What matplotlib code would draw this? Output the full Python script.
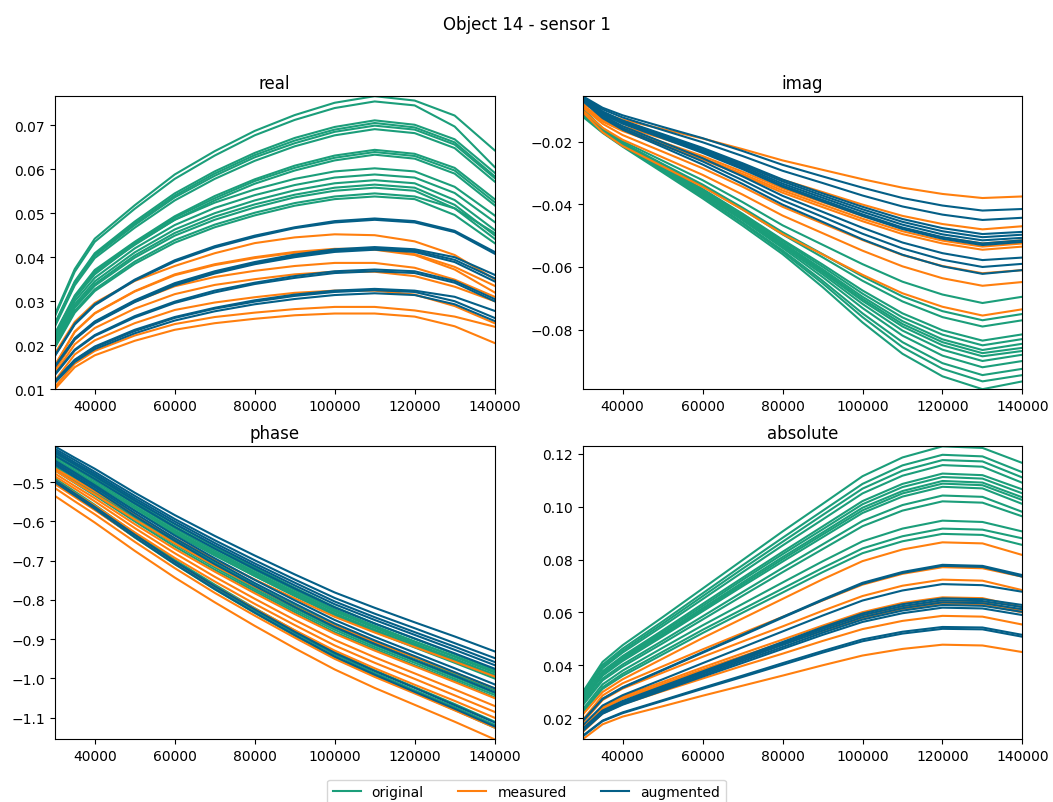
import matplotlib.pyplot as plt
from matplotlib.lines import Line2D

freq = [30000, 35000, 40000, 50000, 60000, 70000, 80000, 90000, 100000, 110000, 120000, 130000, 140000]

# ---- real ----
real_original = [
    [0.0269, 0.0373, 0.0442, 0.0518, 0.0588, 0.0641, 0.0687, 0.0723, 0.0751, 0.0766, 0.0756, 0.0722, 0.0643],
    [0.0265, 0.0367, 0.0435, 0.0510, 0.0578, 0.0631, 0.0677, 0.0712, 0.0739, 0.0754, 0.0745, 0.0697, 0.0605],
    [0.0249, 0.0345, 0.0409, 0.0481, 0.0545, 0.0595, 0.0637, 0.0671, 0.0696, 0.0711, 0.0701, 0.0668, 0.0592],
    [0.0247, 0.0342, 0.0406, 0.0477, 0.0540, 0.0590, 0.0632, 0.0665, 0.0690, 0.0705, 0.0695, 0.0661, 0.0584],
    [0.0245, 0.0340, 0.0403, 0.0473, 0.0536, 0.0585, 0.0627, 0.0659, 0.0685, 0.0699, 0.0690, 0.0656, 0.0580],
    [0.0242, 0.0336, 0.0398, 0.0467, 0.0529, 0.0578, 0.0619, 0.0652, 0.0677, 0.0691, 0.0682, 0.0648, 0.0572],
    [0.0226, 0.0313, 0.0371, 0.0435, 0.0493, 0.0539, 0.0577, 0.0608, 0.0631, 0.0644, 0.0635, 0.0603, 0.0532],
    [0.0224, 0.0310, 0.0368, 0.0432, 0.0490, 0.0534, 0.0573, 0.0603, 0.0626, 0.0639, 0.0630, 0.0597, 0.0525],
    [0.0222, 0.0307, 0.0365, 0.0428, 0.0485, 0.0529, 0.0567, 0.0597, 0.0620, 0.0633, 0.0624, 0.0590, 0.0518],
    [0.0217, 0.0307, 0.0361, 0.0430, 0.0485, 0.0524, 0.0554, 0.0578, 0.0595, 0.0602, 0.0595, 0.0560, 0.0495],
    [0.0212, 0.0300, 0.0353, 0.0420, 0.0473, 0.0512, 0.0541, 0.0564, 0.0581, 0.0588, 0.0581, 0.0546, 0.0480],
    [0.0207, 0.0293, 0.0345, 0.0411, 0.0463, 0.0500, 0.0529, 0.0552, 0.0568, 0.0575, 0.0568, 0.0530, 0.0462],
    [0.0203, 0.0288, 0.0339, 0.0404, 0.0455, 0.0492, 0.0520, 0.0542, 0.0558, 0.0565, 0.0558, 0.0519, 0.0450],
    [0.0201, 0.0285, 0.0335, 0.0399, 0.0449, 0.0485, 0.0513, 0.0536, 0.0551, 0.0558, 0.0551, 0.0511, 0.0442],
    [0.0196, 0.0278, 0.0327, 0.0390, 0.0439, 0.0474, 0.0501, 0.0523, 0.0538, 0.0545, 0.0538, 0.0511, 0.0455],
    [0.0194, 0.0274, 0.0323, 0.0385, 0.0433, 0.0468, 0.0495, 0.0517, 0.0532, 0.0538, 0.0532, 0.0496, 0.0432],
]
real_measured = [
    [0.0181, 0.0253, 0.0296, 0.0346, 0.0380, 0.0409, 0.0432, 0.0445, 0.0452, 0.0450, 0.0436, 0.0405, 0.0350],
    [0.0154, 0.0231, 0.0273, 0.0323, 0.0361, 0.0384, 0.0400, 0.0412, 0.0419, 0.0419, 0.0407, 0.0378, 0.0335],
    [0.0153, 0.0230, 0.0272, 0.0322, 0.0359, 0.0382, 0.0398, 0.0410, 0.0417, 0.0417, 0.0405, 0.0372, 0.0320],
    [0.0142, 0.0213, 0.0252, 0.0299, 0.0334, 0.0355, 0.0369, 0.0380, 0.0387, 0.0387, 0.0376, 0.0349, 0.0310],
    [0.0135, 0.0202, 0.0239, 0.0283, 0.0316, 0.0337, 0.0350, 0.0361, 0.0367, 0.0367, 0.0357, 0.0333, 0.0300],
    [0.0119, 0.0179, 0.0211, 0.0250, 0.0280, 0.0297, 0.0309, 0.0319, 0.0324, 0.0324, 0.0315, 0.0289, 0.0250],
    [0.0105, 0.0158, 0.0187, 0.0222, 0.0248, 0.0264, 0.0274, 0.0282, 0.0287, 0.0287, 0.0279, 0.0265, 0.0242],
    [0.0100, 0.0150, 0.0177, 0.0210, 0.0235, 0.0250, 0.0260, 0.0268, 0.0272, 0.0272, 0.0265, 0.0243, 0.0205],
]
real_augmented = [
    [0.0176, 0.0249, 0.0293, 0.0349, 0.0393, 0.0425, 0.0449, 0.0468, 0.0482, 0.0488, 0.0482, 0.0460, 0.0412],
    [0.0175, 0.0247, 0.0291, 0.0347, 0.0390, 0.0422, 0.0446, 0.0466, 0.0479, 0.0485, 0.0479, 0.0457, 0.0408],
    [0.0152, 0.0216, 0.0254, 0.0302, 0.0341, 0.0368, 0.0389, 0.0406, 0.0418, 0.0423, 0.0418, 0.0400, 0.0360],
    [0.0151, 0.0214, 0.0252, 0.0300, 0.0338, 0.0365, 0.0386, 0.0403, 0.0415, 0.0420, 0.0415, 0.0394, 0.0352],
    [0.0150, 0.0213, 0.0250, 0.0298, 0.0336, 0.0363, 0.0384, 0.0400, 0.0412, 0.0417, 0.0412, 0.0389, 0.0345],
    [0.0134, 0.0190, 0.0223, 0.0266, 0.0299, 0.0324, 0.0342, 0.0357, 0.0368, 0.0372, 0.0368, 0.0346, 0.0305],
    [0.0132, 0.0188, 0.0221, 0.0263, 0.0296, 0.0320, 0.0339, 0.0353, 0.0364, 0.0368, 0.0364, 0.0342, 0.0300],
    [0.0118, 0.0167, 0.0197, 0.0235, 0.0264, 0.0285, 0.0302, 0.0315, 0.0324, 0.0328, 0.0324, 0.0310, 0.0278],
    [0.0117, 0.0166, 0.0195, 0.0232, 0.0262, 0.0283, 0.0299, 0.0312, 0.0321, 0.0325, 0.0321, 0.0300, 0.0262],
    [0.0114, 0.0162, 0.0191, 0.0227, 0.0256, 0.0277, 0.0293, 0.0305, 0.0314, 0.0318, 0.0314, 0.0293, 0.0255],
]

# ---- imag ----
imag_original = [
    [-0.0095, -0.0157, -0.0199, -0.0261, -0.0323, -0.0393, -0.0467, -0.0529, -0.0591, -0.0647, -0.0688, -0.0715, -0.0695],
    [-0.0100, -0.0162, -0.0204, -0.0271, -0.0337, -0.0411, -0.0489, -0.0559, -0.0630, -0.0694, -0.0741, -0.0770, -0.0750],
    [-0.0100, -0.0162, -0.0205, -0.0273, -0.0341, -0.0416, -0.0496, -0.0569, -0.0644, -0.0710, -0.0760, -0.0790, -0.0770],
    [-0.0105, -0.0165, -0.0209, -0.0280, -0.0351, -0.0430, -0.0513, -0.0592, -0.0675, -0.0748, -0.0802, -0.0835, -0.0815],
    [-0.0105, -0.0165, -0.0209, -0.0281, -0.0354, -0.0433, -0.0517, -0.0599, -0.0685, -0.0761, -0.0816, -0.0850, -0.0830],
    [-0.0108, -0.0167, -0.0211, -0.0284, -0.0358, -0.0438, -0.0523, -0.0607, -0.0695, -0.0773, -0.0831, -0.0865, -0.0845],
    [-0.0108, -0.0167, -0.0211, -0.0285, -0.0360, -0.0441, -0.0526, -0.0612, -0.0702, -0.0782, -0.0840, -0.0875, -0.0858],
    [-0.0110, -0.0168, -0.0212, -0.0287, -0.0362, -0.0444, -0.0529, -0.0617, -0.0708, -0.0790, -0.0850, -0.0885, -0.0868],
    [-0.0110, -0.0168, -0.0212, -0.0288, -0.0365, -0.0447, -0.0534, -0.0623, -0.0718, -0.0803, -0.0864, -0.0900, -0.0880],
    [-0.0112, -0.0169, -0.0212, -0.0290, -0.0368, -0.0451, -0.0539, -0.0632, -0.0731, -0.0819, -0.0883, -0.0920, -0.0900],
    [-0.0115, -0.0170, -0.0213, -0.0293, -0.0373, -0.0458, -0.0547, -0.0644, -0.0748, -0.0840, -0.0907, -0.0945, -0.0925],
    [-0.0115, -0.0169, -0.0212, -0.0294, -0.0376, -0.0461, -0.0552, -0.0652, -0.0760, -0.0856, -0.0925, -0.0965, -0.0945],
    [-0.0120, -0.0172, -0.0216, -0.0298, -0.0381, -0.0468, -0.0559, -0.0664, -0.0777, -0.0877, -0.0949, -0.0990, -0.0965],
]
imag_measured = [
    [-0.0080, -0.0110, -0.0130, -0.0160, -0.0190, -0.0224, -0.0260, -0.0290, -0.0320, -0.0347, -0.0367, -0.0380, -0.0375],
    [-0.0085, -0.0125, -0.0151, -0.0190, -0.0230, -0.0275, -0.0322, -0.0361, -0.0401, -0.0437, -0.0463, -0.0480, -0.0470],
    [-0.0085, -0.0129, -0.0158, -0.0202, -0.0246, -0.0296, -0.0349, -0.0393, -0.0437, -0.0477, -0.0506, -0.0525, -0.0515],
    [-0.0088, -0.0133, -0.0163, -0.0207, -0.0252, -0.0303, -0.0356, -0.0401, -0.0446, -0.0486, -0.0516, -0.0535, -0.0525],
    [-0.0090, -0.0136, -0.0166, -0.0212, -0.0257, -0.0308, -0.0363, -0.0409, -0.0454, -0.0495, -0.0525, -0.0545, -0.0535],
    [-0.0090, -0.0143, -0.0179, -0.0232, -0.0285, -0.0344, -0.0408, -0.0461, -0.0514, -0.0562, -0.0597, -0.0620, -0.0610],
    [-0.0100, -0.0156, -0.0194, -0.0250, -0.0306, -0.0369, -0.0436, -0.0492, -0.0548, -0.0598, -0.0636, -0.0660, -0.0648],
    [-0.0105, -0.0170, -0.0214, -0.0279, -0.0344, -0.0417, -0.0495, -0.0560, -0.0625, -0.0684, -0.0727, -0.0755, -0.0735],
]
imag_augmented = [
    [-0.0055, -0.0092, -0.0116, -0.0153, -0.0189, -0.0230, -0.0274, -0.0311, -0.0347, -0.0380, -0.0404, -0.0420, -0.0415],
    [-0.0058, -0.0097, -0.0123, -0.0163, -0.0202, -0.0246, -0.0293, -0.0332, -0.0372, -0.0407, -0.0433, -0.0450, -0.0443],
    [-0.0060, -0.0104, -0.0133, -0.0176, -0.0220, -0.0269, -0.0321, -0.0365, -0.0408, -0.0447, -0.0476, -0.0495, -0.0488],
    [-0.0060, -0.0105, -0.0134, -0.0179, -0.0223, -0.0274, -0.0327, -0.0372, -0.0416, -0.0456, -0.0486, -0.0505, -0.0497],
    [-0.0062, -0.0107, -0.0138, -0.0183, -0.0228, -0.0279, -0.0334, -0.0379, -0.0424, -0.0465, -0.0496, -0.0515, -0.0507],
    [-0.0062, -0.0108, -0.0139, -0.0186, -0.0232, -0.0284, -0.0340, -0.0386, -0.0432, -0.0474, -0.0505, -0.0525, -0.0515],
    [-0.0065, -0.0112, -0.0143, -0.0189, -0.0236, -0.0288, -0.0344, -0.0391, -0.0437, -0.0479, -0.0510, -0.0530, -0.0520],
    [-0.0065, -0.0116, -0.0151, -0.0202, -0.0253, -0.0311, -0.0373, -0.0424, -0.0475, -0.0522, -0.0556, -0.0578, -0.0570],
    [-0.0068, -0.0121, -0.0157, -0.0210, -0.0263, -0.0323, -0.0387, -0.0440, -0.0494, -0.0541, -0.0577, -0.0600, -0.0590],
    [-0.0070, -0.0125, -0.0162, -0.0217, -0.0273, -0.0335, -0.0401, -0.0456, -0.0512, -0.0561, -0.0598, -0.0622, -0.0610],
]

# ---- phase ----
phase_original = [
    [-0.420, -0.451, -0.481, -0.546, -0.607, -0.664, -0.717, -0.769, -0.818, -0.860, -0.899, -0.938, -0.978],
    [-0.425, -0.456, -0.487, -0.551, -0.613, -0.670, -0.724, -0.775, -0.824, -0.866, -0.906, -0.945, -0.985],
    [-0.430, -0.461, -0.492, -0.556, -0.618, -0.675, -0.729, -0.780, -0.829, -0.871, -0.911, -0.950, -0.990],
    [-0.435, -0.466, -0.497, -0.561, -0.623, -0.680, -0.734, -0.785, -0.834, -0.876, -0.916, -0.955, -0.995],
    [-0.440, -0.471, -0.502, -0.566, -0.628, -0.685, -0.739, -0.790, -0.839, -0.881, -0.921, -0.960, -1.000],
    [-0.445, -0.475, -0.504, -0.566, -0.625, -0.680, -0.731, -0.781, -0.828, -0.868, -0.906, -0.943, -0.982],
    [-0.450, -0.480, -0.510, -0.572, -0.632, -0.687, -0.739, -0.789, -0.836, -0.877, -0.915, -0.953, -0.992],
    [-0.455, -0.487, -0.518, -0.584, -0.648, -0.706, -0.762, -0.814, -0.865, -0.908, -0.948, -0.989, -1.030],
    [-0.460, -0.492, -0.524, -0.590, -0.653, -0.712, -0.768, -0.821, -0.871, -0.915, -0.955, -0.996, -1.037],
    [-0.465, -0.497, -0.529, -0.595, -0.658, -0.717, -0.773, -0.826, -0.876, -0.920, -0.960, -1.001, -1.042],
    [-0.470, -0.502, -0.534, -0.600, -0.664, -0.723, -0.778, -0.831, -0.882, -0.925, -0.966, -1.006, -1.048],
    [-0.490, -0.524, -0.558, -0.630, -0.698, -0.761, -0.821, -0.878, -0.932, -0.979, -1.022, -1.065, -1.110],
    [-0.495, -0.529, -0.564, -0.635, -0.704, -0.767, -0.827, -0.884, -0.939, -0.986, -1.030, -1.073, -1.118],
    [-0.500, -0.534, -0.569, -0.641, -0.709, -0.773, -0.833, -0.891, -0.946, -0.993, -1.036, -1.080, -1.125],
]
phase_measured = [
    [-0.465, -0.494, -0.523, -0.584, -0.643, -0.697, -0.748, -0.796, -0.843, -0.883, -0.920, -0.957, -0.995],
    [-0.470, -0.501, -0.531, -0.595, -0.656, -0.713, -0.766, -0.817, -0.866, -0.907, -0.946, -0.985, -1.025],
    [-0.478, -0.510, -0.541, -0.607, -0.670, -0.728, -0.783, -0.836, -0.886, -0.929, -0.969, -1.009, -1.050],
    [-0.485, -0.517, -0.549, -0.617, -0.681, -0.741, -0.797, -0.851, -0.902, -0.946, -0.987, -1.028, -1.070],
    [-0.495, -0.528, -0.560, -0.628, -0.693, -0.753, -0.810, -0.864, -0.916, -0.960, -1.001, -1.043, -1.085],
    [-0.505, -0.538, -0.571, -0.639, -0.704, -0.765, -0.822, -0.877, -0.929, -0.974, -1.016, -1.057, -1.100],
    [-0.515, -0.549, -0.582, -0.652, -0.719, -0.782, -0.840, -0.896, -0.950, -0.996, -1.038, -1.081, -1.125],
    [-0.535, -0.569, -0.603, -0.675, -0.743, -0.806, -0.866, -0.923, -0.977, -1.024, -1.067, -1.110, -1.155],
]
phase_augmented = [
    [-0.409, -0.438, -0.466, -0.527, -0.584, -0.637, -0.687, -0.735, -0.781, -0.820, -0.857, -0.893, -0.931],
    [-0.415, -0.444, -0.474, -0.535, -0.594, -0.648, -0.699, -0.748, -0.795, -0.835, -0.872, -0.910, -0.948],
    [-0.420, -0.450, -0.479, -0.541, -0.600, -0.655, -0.707, -0.756, -0.804, -0.844, -0.882, -0.919, -0.958],
    [-0.425, -0.455, -0.485, -0.547, -0.606, -0.661, -0.713, -0.763, -0.811, -0.851, -0.889, -0.927, -0.966],
    [-0.432, -0.462, -0.492, -0.554, -0.614, -0.669, -0.721, -0.771, -0.819, -0.860, -0.898, -0.936, -0.975],
    [-0.445, -0.476, -0.508, -0.573, -0.636, -0.694, -0.749, -0.801, -0.851, -0.894, -0.934, -0.974, -1.015],
    [-0.450, -0.482, -0.513, -0.579, -0.643, -0.701, -0.757, -0.809, -0.860, -0.903, -0.943, -0.984, -1.025],
    [-0.455, -0.487, -0.519, -0.586, -0.649, -0.709, -0.764, -0.818, -0.869, -0.912, -0.953, -0.993, -1.035],
    [-0.495, -0.529, -0.563, -0.634, -0.702, -0.765, -0.824, -0.881, -0.935, -0.981, -1.024, -1.068, -1.112],
    [-0.500, -0.534, -0.568, -0.640, -0.708, -0.772, -0.832, -0.889, -0.944, -0.990, -1.034, -1.077, -1.122],
]

# ---- absolute ----
abs_original = [
    [0.0298, 0.0413, 0.0476, 0.0582, 0.0690, 0.0798, 0.0906, 0.1010, 0.1115, 0.1186, 0.1228, 0.1222, 0.1165],
    [0.0290, 0.0402, 0.0463, 0.0566, 0.0672, 0.0778, 0.0882, 0.0984, 0.1086, 0.1156, 0.1196, 0.1190, 0.1130],
    [0.0286, 0.0395, 0.0455, 0.0557, 0.0661, 0.0765, 0.0867, 0.0968, 0.1068, 0.1136, 0.1176, 0.1171, 0.1110],
    [0.0281, 0.0389, 0.0448, 0.0548, 0.0650, 0.0752, 0.0853, 0.0951, 0.1050, 0.1117, 0.1157, 0.1151, 0.1090],
    [0.0273, 0.0378, 0.0435, 0.0532, 0.0632, 0.0731, 0.0829, 0.0925, 0.1021, 0.1086, 0.1125, 0.1119, 0.1065],
    [0.0270, 0.0374, 0.0430, 0.0526, 0.0624, 0.0723, 0.0820, 0.0914, 0.1009, 0.1074, 0.1112, 0.1106, 0.1050],
    [0.0266, 0.0369, 0.0425, 0.0519, 0.0616, 0.0713, 0.0809, 0.0902, 0.0996, 0.1059, 0.1097, 0.1091, 0.1035],
    [0.0264, 0.0365, 0.0421, 0.0514, 0.0610, 0.0706, 0.0801, 0.0894, 0.0986, 0.1050, 0.1087, 0.1081, 0.1025],
    [0.0261, 0.0361, 0.0416, 0.0509, 0.0604, 0.0699, 0.0792, 0.0884, 0.0976, 0.1038, 0.1075, 0.1069, 0.1010],
    [0.0253, 0.0350, 0.0403, 0.0493, 0.0585, 0.0677, 0.0768, 0.0857, 0.0946, 0.1006, 0.1042, 0.1037, 0.0980],
    [0.0248, 0.0343, 0.0395, 0.0483, 0.0573, 0.0663, 0.0752, 0.0839, 0.0926, 0.0985, 0.1020, 0.1015, 0.0963],
    [0.0233, 0.0328, 0.0380, 0.0466, 0.0551, 0.0632, 0.0713, 0.0793, 0.0869, 0.0917, 0.0947, 0.0942, 0.0906],
    [0.0225, 0.0317, 0.0368, 0.0451, 0.0534, 0.0612, 0.0690, 0.0768, 0.0842, 0.0888, 0.0917, 0.0913, 0.0880],
    [0.0221, 0.0311, 0.0360, 0.0441, 0.0522, 0.0599, 0.0675, 0.0752, 0.0824, 0.0869, 0.0897, 0.0893, 0.0855],
]
abs_measured = [
    [0.0213, 0.0299, 0.0347, 0.0425, 0.0503, 0.0577, 0.0651, 0.0725, 0.0794, 0.0838, 0.0865, 0.0861, 0.0817],
    [0.0193, 0.0286, 0.0332, 0.0396, 0.0460, 0.0522, 0.0583, 0.0645, 0.0705, 0.0746, 0.0771, 0.0767, 0.0735],
    [0.0182, 0.0269, 0.0312, 0.0372, 0.0432, 0.0490, 0.0547, 0.0606, 0.0662, 0.0701, 0.0724, 0.0720, 0.0684],
    [0.0165, 0.0244, 0.0283, 0.0337, 0.0392, 0.0445, 0.0497, 0.0550, 0.0601, 0.0636, 0.0657, 0.0654, 0.0620],
    [0.0161, 0.0239, 0.0277, 0.0330, 0.0384, 0.0435, 0.0486, 0.0539, 0.0588, 0.0622, 0.0643, 0.0640, 0.0605],
    [0.0159, 0.0235, 0.0273, 0.0325, 0.0378, 0.0429, 0.0479, 0.0530, 0.0579, 0.0613, 0.0633, 0.0630, 0.0600],
    [0.0147, 0.0218, 0.0253, 0.0302, 0.0350, 0.0398, 0.0444, 0.0492, 0.0537, 0.0568, 0.0587, 0.0584, 0.0554],
    [0.0120, 0.0177, 0.0206, 0.0245, 0.0285, 0.0323, 0.0361, 0.0400, 0.0437, 0.0462, 0.0478, 0.0475, 0.0450],
]
abs_augmented = [
    [0.0190, 0.0274, 0.0317, 0.0383, 0.0450, 0.0516, 0.0583, 0.0649, 0.0712, 0.0753, 0.0780, 0.0776, 0.0741],
    [0.0189, 0.0272, 0.0315, 0.0381, 0.0447, 0.0513, 0.0580, 0.0646, 0.0708, 0.0749, 0.0776, 0.0772, 0.0735],
    [0.0172, 0.0248, 0.0287, 0.0347, 0.0408, 0.0468, 0.0528, 0.0588, 0.0645, 0.0683, 0.0707, 0.0703, 0.0678],
    [0.0159, 0.0229, 0.0265, 0.0321, 0.0377, 0.0432, 0.0488, 0.0544, 0.0596, 0.0631, 0.0653, 0.0650, 0.0628],
    [0.0157, 0.0227, 0.0262, 0.0318, 0.0373, 0.0428, 0.0483, 0.0538, 0.0590, 0.0624, 0.0646, 0.0643, 0.0620],
    [0.0156, 0.0224, 0.0259, 0.0314, 0.0368, 0.0422, 0.0477, 0.0531, 0.0582, 0.0616, 0.0638, 0.0635, 0.0612],
    [0.0153, 0.0221, 0.0255, 0.0309, 0.0362, 0.0416, 0.0469, 0.0523, 0.0573, 0.0607, 0.0628, 0.0625, 0.0602],
    [0.0151, 0.0217, 0.0251, 0.0304, 0.0357, 0.0409, 0.0462, 0.0515, 0.0564, 0.0597, 0.0618, 0.0615, 0.0590],
    [0.0133, 0.0191, 0.0222, 0.0268, 0.0315, 0.0361, 0.0408, 0.0454, 0.0498, 0.0527, 0.0545, 0.0543, 0.0515],
    [0.0131, 0.0189, 0.0219, 0.0265, 0.0311, 0.0356, 0.0402, 0.0448, 0.0491, 0.0520, 0.0538, 0.0536, 0.0508],
]

c_orig = '#1b9e7a'
c_meas = '#ff7f0e'
c_aug = '#045f87'

panels = [
    ('real', real_original, real_measured, real_augmented),
    ('imag', imag_original, imag_measured, imag_augmented),
    ('phase', phase_original, phase_measured, phase_augmented),
    ('absolute', abs_original, abs_measured, abs_augmented),
]

fig, axes = plt.subplots(2, 2, figsize=(10.53, 8.03), dpi=100)
fig.subplots_adjust(left=0.052, right=0.971, top=0.879, bottom=0.078,
                    wspace=0.2, hspace=0.195)

for ax, (title, orig, meas, aug) in zip(axes.flat, panels):
    for y in orig:
        ax.plot(freq, y, color=c_orig)
    for y in meas:
        ax.plot(freq, y, color=c_meas)
    for y in aug:
        ax.plot(freq, y, color=c_aug)
    ax.set_title(title)
    ax.autoscale(tight=True)

handles = [Line2D([], [], color=c_orig), Line2D([], [], color=c_meas), Line2D([], [], color=c_aug)]
fig.legend(handles, ['original', 'measured', 'augmented'], loc='lower center',
           ncol=3, columnspacing=2.5, bbox_to_anchor=(0.5, -0.012))
fig.suptitle('Object 14 - sensor 1')

plt.savefig('out.png')
